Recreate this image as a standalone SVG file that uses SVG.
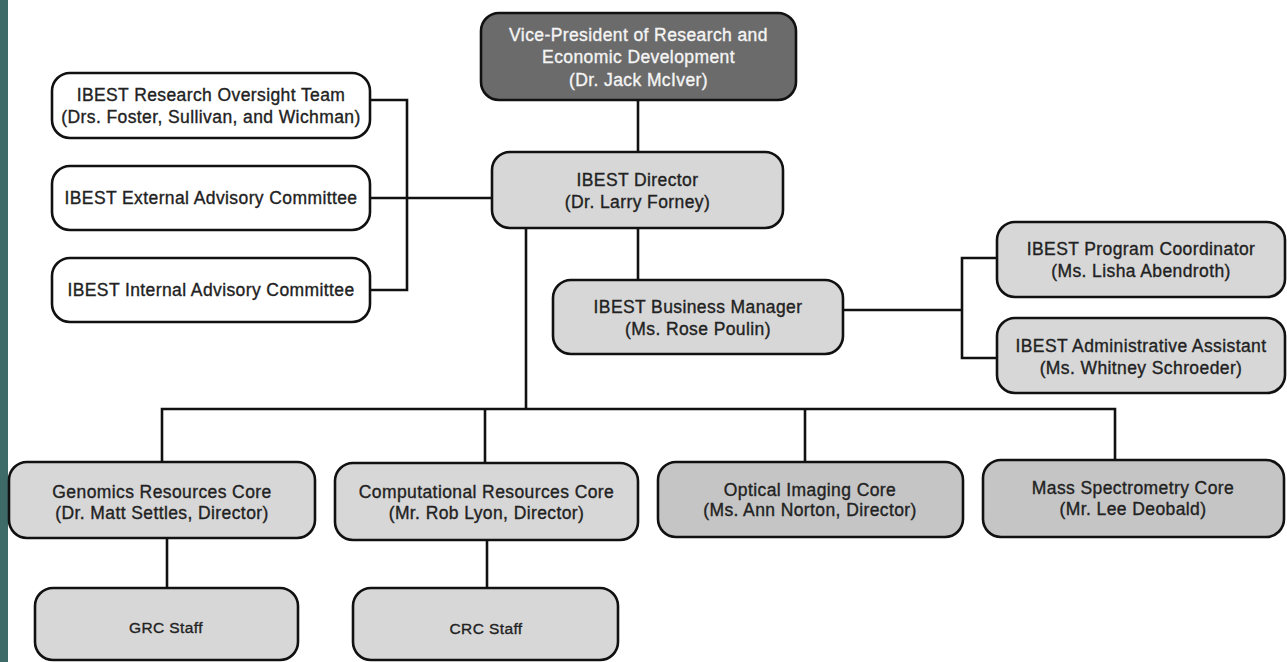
<svg xmlns="http://www.w3.org/2000/svg" width="1287" height="662" viewBox="0 0 1287 662">
<style>
.box{stroke:#111;stroke-width:2.6}
.w{fill:#ffffff}
.l{fill:#d7d7d7}
.m{fill:#c5c5c5}
.d{fill:#6b6b6b}
text{font-family:"Liberation Sans",Arial,sans-serif;font-size:17.5px;letter-spacing:0.4px;fill:#222;stroke:#222;stroke-width:0.35;text-anchor:middle}
.wt{fill:#f4f4f4;stroke:#f4f4f4}
.s{font-size:15.5px}
.conn{stroke:#111;stroke-width:2.6;fill:none}
</style>
<rect x="0" y="0" width="1287" height="662" fill="#ffffff"/>
<rect x="0" y="0" width="8" height="662" fill="#3e6a67"/>
<g id="connectors" class="conn">
<path d="M638 100V152"/>
<path d="M526 228V409"/>
<path d="M638 228V280"/>
<path d="M370 100H407V290H370"/>
<path d="M370 198H492"/>
<path d="M843 310H962"/>
<path d="M997 258H962V358H997"/>
<path d="M162 462V409H1115V460"/>
<path d="M485 409V463"/>
<path d="M805 409V462"/>
<path d="M167 538V588"/>
<path d="M487 540V588"/>
</g>
<g id="vp"><rect class="box d" x="481" y="13" width="315" height="87" rx="18"/>
<text class="wt" x="638.5" y="41">Vice-President of Research and</text>
<text class="wt" x="638.5" y="63">Economic Development</text>
<text class="wt" x="638.5" y="86">(Dr. Jack McIver)</text></g>
<g id="director"><rect class="box l" x="492" y="152" width="291" height="76" rx="18"/>
<text x="637.5" y="186">IBEST Director</text>
<text x="637.5" y="208">(Dr. Larry Forney)</text></g>
<g id="oversight"><rect class="box w" x="52" y="73" width="318" height="65" rx="18"/>
<text x="211" y="101">IBEST Research Oversight Team</text>
<text x="211" y="123">(Drs. Foster, Sullivan, and Wichman)</text></g>
<g id="external"><rect class="box w" x="52" y="166" width="318" height="64" rx="18"/>
<text x="211" y="204">IBEST External Advisory Committee</text></g>
<g id="internal"><rect class="box w" x="52" y="258" width="318" height="64" rx="18"/>
<text x="211" y="296">IBEST Internal Advisory Committee</text></g>
<g id="business"><rect class="box l" x="553" y="280" width="290" height="74" rx="18"/>
<text x="698" y="313">IBEST Business Manager</text>
<text x="698" y="335">(Ms. Rose Poulin)</text></g>
<g id="coordinator"><rect class="box l" x="997" y="222" width="288" height="75" rx="18"/>
<text x="1141" y="255">IBEST Program Coordinator</text>
<text x="1141" y="277">(Ms. Lisha Abendroth)</text></g>
<g id="assistant"><rect class="box l" x="997" y="318" width="288" height="75" rx="18"/>
<text x="1141" y="352">IBEST Administrative Assistant</text>
<text x="1141" y="374">(Ms. Whitney Schroeder)</text></g>
<g id="genomics"><rect class="box l" x="9" y="462" width="306" height="76" rx="18"/>
<text x="162" y="498">Genomics Resources Core</text>
<text x="162" y="519">(Dr. Matt Settles, Director)</text></g>
<g id="computational"><rect class="box l" x="335" y="463" width="303" height="77" rx="18"/>
<text x="486.5" y="498">Computational Resources Core</text>
<text x="486.5" y="519">(Mr. Rob Lyon, Director)</text></g>
<g id="optical"><rect class="box m" x="658" y="462" width="305" height="75" rx="18"/>
<text x="810" y="496">Optical Imaging Core</text>
<text x="810" y="516">(Ms. Ann Norton, Director)</text></g>
<g id="mass"><rect class="box m" x="983" y="460" width="301" height="77" rx="18"/>
<text x="1133" y="494">Mass Spectrometry Core</text>
<text x="1133" y="515">(Mr. Lee Deobald)</text></g>
<g id="grc"><rect class="box l" x="35" y="588" width="263" height="72" rx="18"/>
<text class="s" x="166" y="633">GRC Staff</text></g>
<g id="crc"><rect class="box l" x="353" y="588" width="265" height="72" rx="18"/>
<text class="s" x="486" y="634">CRC Staff</text></g>
</svg>
